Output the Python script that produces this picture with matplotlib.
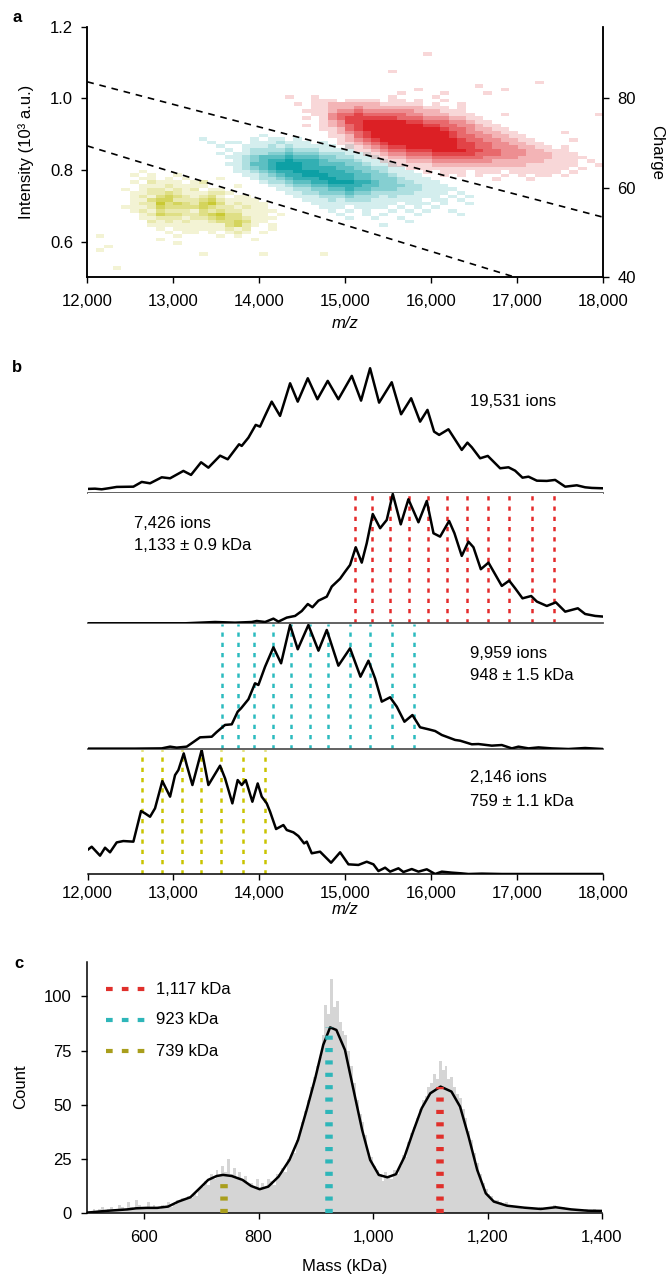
import numpy as np
import matplotlib
matplotlib.use('Agg')
import matplotlib.pyplot as plt
from matplotlib.lines import Line2D
from matplotlib.ticker import FuncFormatter

plt.rcParams['font.family'] = ['Liberation Sans', 'DejaVu Sans']
plt.rcParams['font.size'] = 12

# ---------------- data: panel a (2D histogram levels, 0..6) ----------------
yellow_mz0, yellow_top = 12000, 0.81
yellow_rows = [
    "00000000000000000000000000000",
    "00000010000000000000000000000",
    "00000101001000000000000000000",
    "00000011010100010000000000000",
    "00000102111012000000000000000",
    "00000011121111000100000000000",
    "00001012212120110000000000000",
    "00000112232111221000000000000",
    "00000121343212310110000000000",
    "00000113442223421111000000000",
    "00000122534324531211100000000",
    "00001112433334322121100000000",
    "00000121322213232211110000000",
    "00000012433223453311101000000",
    "00000011222122343321110000000",
    "00000002121211233431100000000",
    "00000001111111113421010000000",
    "00000000101111112120010000000",
    "00000000010110101210100000000",
    "01000000001000010100000000000",
    "00000000100000000001000000000",
    "00000000001000000000000000000",
    "00100000000000000000000000000",
    "01000000000000000000000000000",
    "00000000000001000000100000010",
    "00000000000000000000000000000",
    "00000000000000000000000000000",
    "00000000000000000000000000000",
    "00010000000000000000000000000",
]
cyan_mz0, cyan_top = 13000, 0.91
cyan_rows = [
    "0000000000000000000000000000000000000000",
    "0000000000100000000000000000000000000000",
    "0001000001011010000000000000000000000000",
    "0000101101112111010000000000000000000000",
    "0000010011121211111010000000000000000000",
    "0000001012222322211110000000000000000000",
    "0000010112233433322211100000000000000000",
    "0000001123444544433221110000000000000000",
    "0000000123455655543332111000000000000000",
    "0000001124456665544433211100000000000000",
    "0000000123456665555443322110000000000000",
    "0000000112345566655544332111000000000000",
    "0000000011234556665554433211100000000000",
    "0000000001223455566554433321110000000000",
    "0000000000122344556665543322111000000000",
    "0000000000011233445555443332211100000000",
    "0000000000001122334454433322211110000000",
    "0000000000000112233343322222111101000000",
    "0000000000000011122232221211111010100000",
    "0000000000000001112122211111101101000000",
    "0000000000000000111111111101110100100000",
    "0000000000000000011101111010101000000000",
    "0000000000000000001010100101010010000000",
    "0000000000000000000100101000100001000000",
    "0000000000000000000010010010000000000000",
    "0000000000000000000000000001000000000000",
    "0000000000000000000000001000000000000000",
]
red_mz0, red_top = 14300, 1.13
red_rows = [
    "0000000000000000100000000000000000000",
    "0000000000000000000000000000000000000",
    "0000000000000000000000000000000000000",
    "0000000000000000000000000000000000000",
    "0000000000000000000000000000000000000",
    "0000000000001000000000000000000000000",
    "0000000000000000000000000000000000000",
    "0000000000000000000000000000000000000",
    "0000000000000000000000000000010000000",
    "0000000000000000000000100000000000000",
    "0000000000000001000000000100000000000",
    "0000000000000100001000010000000000000",
    "1001000000001000010000000000000000000",
    "0001110111101101001000000000000000000",
    "0101122222211111010010000000000000000",
    "0001122232222222111010000000000000000",
    "0011123343333332221110000000000000000",
    "0001134454444433222111000100000000001",
    "0010134555555444333221100000000000000",
    "0000123556666655444332110000000000000",
    "0010123456666666554433211000000000000",
    "0000112456666666665443221100000000000",
    "0000012345666666666543322110000010000",
    "0000011245666666666544332211000000000",
    "0000001234566666666654433221100001000",
    "0000001123456666666655443322110000000",
    "0000000112345566666655443332211010000",
    "0000000011234455566665544333221110000",
    "0000000001123344455555444333222111000",
    "0000000000112233344444433332222111100",
    "0000000000011122233333332222221111010",
    "0000000000001111122222222222111111001",
    "0000000000000011111111111111111110100",
    "0000000000000000101110111011111101000",
    "0000000000000000001010100101011010000",
    "0000000000000000000000001000100000000",
]
upper_line_mz = [12000, 18000]
upper_line_int = [1.046, 0.668]
lower_line_mz = [12000, 18000]
lower_line_int = [0.867, 0.425]

mz_ticks = [12000, 13000, 14000, 15000, 16000, 17000, 18000]
int_ticks = [0.6, 0.8, 1.0, 1.2]
charge_ticks = [40, 60, 80]

# ---------------- data: panel b (normalised intensity traces) ----------------
all_trace = [(12000, 0.035), (12087, 0.037), (12165, 0.032), (12243, 0.040), (12340, 0.051),
             (12534, 0.053), (12631, 0.091), (12728, 0.080), (12864, 0.128), (12961, 0.120),
             (13116, 0.179), (13205, 0.147), (13322, 0.248), (13407, 0.205), (13543, 0.301),
             (13632, 0.272), (13764, 0.392), (13795, 0.379), (13873, 0.445), (13958, 0.547),
             (14008, 0.533), (14067, 0.621), (14144, 0.733), (14241, 0.619), (14358, 0.880),
             (14447, 0.733), (14564, 0.920), (14676, 0.752), (14796, 0.899), (14920, 0.752),
             (15076, 0.939), (15184, 0.741), (15289, 1.000), (15394, 0.725), (15541, 0.888),
             (15650, 0.632), (15767, 0.760), (15871, 0.573), (15957, 0.667), (16034, 0.493),
             (16093, 0.467), (16201, 0.512), (16356, 0.347), (16422, 0.405), (16473, 0.368),
             (16570, 0.280), (16659, 0.299), (16803, 0.200), (16900, 0.208), (16977, 0.181),
             (17063, 0.125), (17133, 0.133), (17230, 0.101), (17346, 0.099), (17443, 0.107),
             (17560, 0.053), (17695, 0.064), (17792, 0.048), (17870, 0.043), (18000, 0.040)]
red_trace = [(12000, 0.0), (12359, 0.0), (12747, 0.0), (13135, 0.0), (13485, 0.010),
             (13717, 0.005), (13912, 0.010), (13970, 0.018), (14067, 0.010), (14164, 0.036),
             (14222, 0.013), (14319, 0.044), (14416, 0.057), (14494, 0.095), (14564, 0.149),
             (14618, 0.124), (14688, 0.175), (14785, 0.206), (14843, 0.284), (14940, 0.345),
             (14998, 0.399), (15056, 0.451), (15122, 0.588), (15192, 0.469), (15250, 0.619),
             (15320, 0.845), (15406, 0.735), (15483, 0.799), (15553, 1.000), (15646, 0.765),
             (15735, 0.959), (15852, 0.781), (15949, 0.946), (16027, 0.696), (16104, 0.670),
             (16209, 0.791), (16271, 0.696), (16356, 0.521), (16434, 0.631), (16492, 0.588),
             (16578, 0.418), (16667, 0.469), (16822, 0.289), (16908, 0.330), (16977, 0.271),
             (17063, 0.193), (17164, 0.211), (17230, 0.168), (17346, 0.134), (17451, 0.162),
             (17560, 0.090), (17707, 0.116), (17792, 0.072), (17909, 0.057), (18000, 0.052)]
cyan_trace = [(12000, 0.003), (12553, 0.003), (12864, 0.005), (12961, 0.019), (13038, 0.011),
              (13155, 0.019), (13232, 0.056), (13310, 0.094), (13446, 0.099), (13504, 0.137),
              (13601, 0.194), (13679, 0.199), (13748, 0.301), (13787, 0.328), (13873, 0.401),
              (13950, 0.530), (13989, 0.516), (14067, 0.664), (14164, 0.820), (14253, 0.691),
              (14358, 1.000), (14447, 0.804), (14571, 1.000), (14688, 0.793), (14785, 0.960),
              (14920, 0.672), (15056, 0.812), (15177, 0.583), (15270, 0.712), (15347, 0.570),
              (15425, 0.382), (15522, 0.417), (15600, 0.341), (15689, 0.220), (15782, 0.274),
              (15871, 0.175), (15968, 0.159), (16046, 0.145), (16124, 0.113), (16279, 0.073),
              (16337, 0.067), (16473, 0.038), (16550, 0.040), (16706, 0.027), (16822, 0.032),
              (16939, 0.005), (17016, 0.019), (17133, 0.005), (17249, 0.013), (17404, 0.005),
              (17598, 0.0), (17792, 0.008), (18000, 0.0)]
yellow_trace = [(12000, 0.194), (12049, 0.220), (12146, 0.148), (12204, 0.212), (12262, 0.175),
                (12340, 0.255), (12417, 0.266), (12534, 0.261), (12623, 0.508), (12670, 0.489),
                (12728, 0.462), (12786, 0.530), (12871, 0.750), (12961, 0.624), (13019, 0.798),
                (13058, 0.839), (13120, 0.973), (13155, 0.879), (13221, 0.718), (13329, 1.000),
                (13407, 0.718), (13543, 0.874), (13601, 0.772), (13686, 0.570), (13748, 0.758),
                (13795, 0.718), (13842, 0.758), (13919, 0.583), (13981, 0.731), (14028, 0.624),
                (14086, 0.570), (14125, 0.503), (14195, 0.363), (14280, 0.395), (14319, 0.355),
                (14397, 0.336), (14455, 0.306), (14521, 0.247), (14552, 0.261), (14610, 0.167),
                (14707, 0.180), (14835, 0.091), (14940, 0.175), (15037, 0.078), (15153, 0.073),
                (15250, 0.099), (15328, 0.078), (15386, 0.024), (15464, 0.051), (15522, 0.019),
                (15619, 0.046), (15677, 0.016), (15774, 0.040), (15852, 0.019), (15949, 0.038),
                (16046, 0.0), (16124, 0.019), (16240, 0.011), (16356, 0.005), (16434, 0.0),
                (16589, 0.003), (16822, 0.0), (18000, 0.0)]
red_peaks = [15110, 15310, 15520, 15740, 15960, 16190, 16420, 16660, 16910, 17170, 17430]
cyan_peaks = [13560, 13750, 13940, 14160, 14365, 14585, 14805, 15050, 15290, 15540, 15795]
yellow_peaks = [12640, 12865, 13100, 13320, 13550, 13815, 14070]
b_labels = [["19,531 ions"], ["7,426 ions", "1,133 \u00b1 0.9 kDa"],
            ["9,959 ions", "948 \u00b1 1.5 kDa"], ["2,146 ions", "759 \u00b1 1.1 kDa"]]

# ---------------- data: panel c ----------------
hist_start, hist_bin = 500, 5
hist_counts = [1, 1, 2, 1, 2, 3, 1, 2, 3, 2,
               2, 4, 3, 2, 5, 3, 2, 6, 4, 3,
               3, 5, 2, 4, 3, 2, 4, 3, 5, 3,
               4, 6, 5, 7, 6, 8, 7, 9, 8, 11,
               12, 15, 13, 18, 16, 20, 17, 22, 19, 25,
               18, 21, 16, 19, 15, 17, 13, 14, 12, 16,
               11, 14, 12, 16, 15, 13, 18, 17, 21, 19,
               25, 27, 28, 34, 36, 42, 47, 52, 58, 63,
               68, 72, 82, 96, 92, 108, 95, 98, 88, 84,
               82, 75, 68, 60, 52, 46, 42, 36, 28, 26,
               22, 20, 18, 15, 19, 17, 16, 20, 18, 22,
               27, 26, 33, 37, 40, 44, 48, 52, 54, 58,
               60, 64, 62, 70, 66, 68, 62, 63, 58, 55,
               53, 48, 44, 38, 34, 28, 23, 18, 14, 11,
               9, 8, 6, 6, 5, 4, 5, 3, 4, 3,
               3, 3, 2, 3, 2, 3, 2, 2, 3, 2,
               2, 3, 3, 4, 3, 2, 3, 2, 2, 2,
               2, 1, 2, 1, 2, 1, 1, 2, 1, 1]
fit_curve = [(500, 0.3), (533, 1.1), (571, 1.8), (586, 2.3), (604, 2.5), (623, 2.5), (642, 3.1),
             (660, 5.4), (681, 7.4), (697, 11.5), (712, 15.4), (727, 17.2), (738, 17.7),
             (753, 17.2), (772, 15.4), (787, 12.6), (802, 11.1), (817, 12.3), (835, 16.9),
             (854, 24.6), (869, 33.8), (884, 47.6), (899, 62.2), (913, 77.6), (925, 85.7),
             (936, 84.5), (951, 75.3), (966, 56.8), (981, 38.4), (995, 24.6), (1010, 17.7),
             (1025, 16.6), (1040, 18.0), (1055, 26.1), (1070, 37.6), (1085, 48.4), (1100, 55.3),
             (1118, 58.4), (1137, 56.1), (1152, 49.2), (1167, 35.3), (1182, 20.0), (1197, 9.2),
             (1211, 5.4), (1234, 3.5), (1264, 2.6), (1293, 2.0), (1319, 2.8), (1346, 1.8),
             (1375, 1.2), (1400, 1.1)]
c_masses = [1117, 923, 739]
c_heights = [58, 86, 14]
c_labels = ["1,117 kDa", "923 kDa", "739 kDa"]
mass_ticks = [600, 800, 1000, 1200, 1400]
count_ticks = [0, 25, 50, 75, 100]

# ---------------- styles ----------------
RED_H, CYAN_H, YEL_H = (0.86, 0.08, 0.10), (0.0, 0.61, 0.63), (0.74, 0.74, 0.0)
RED_B, CYAN_B, YEL_B = '#e42a2b', '#2bbbbf', '#c9c400'
RED_C, CYAN_C, OLV_C = '#e0302b', '#2eb6b9', '#a99e1c'
ALPHAS = np.array([0, 0.17, 0.32, 0.48, 0.64, 0.8, 0.95])

W, H = 668, 1276
fig = plt.figure(figsize=(W / 100, H / 100), dpi=100)


def box(l, t, r, b):
    return [l / W, 1 - b / H, (r - l) / W, (b - t) / H]


def fx(x):
    return x / W


def fy(y):
    return 1 - y / H


comma = FuncFormatter(lambda v, p: f"{v:,.0f}")


def style_ticks(ax, xpad=8, ypad=6):
    ax.tick_params(direction='out', length=4.3, width=1.0, labelsize=12)
    ax.tick_params(axis='x', pad=xpad)
    ax.tick_params(axis='y', pad=ypad)


# ---------------- panel a ----------------
axa = fig.add_axes(box(87.3, 26.7, 603, 277.3))
for rows, mz0, top, col in [(yellow_rows, yellow_mz0, yellow_top, YEL_H),
                            (cyan_rows, cyan_mz0, cyan_top, CYAN_H),
                            (red_rows, red_mz0, red_top, RED_H)]:
    ncol = max(len(r) for r in rows)
    lv = np.array([[int(ch) for ch in r.ljust(ncol, '0')] for r in rows])
    rgba = np.zeros(lv.shape + (4,))
    rgba[..., :3] = col
    rgba[..., 3] = ALPHAS[lv]
    axa.imshow(rgba, extent=(mz0, mz0 + ncol * 100, top - lv.shape[0] * 0.01, top),
               aspect='auto', interpolation='nearest', zorder=1)
axa.plot(upper_line_mz, upper_line_int, color='black', lw=1.2, ls=(0, (4, 3.5)), zorder=3)
axa.plot(lower_line_mz, lower_line_int, color='black', lw=1.2, ls=(0, (4, 3.5)), zorder=3)
axa.set_xlim(12000, 18000)
axa.set_ylim(0.5, 1.2)
axa.set_xticks(mz_ticks)
axa.xaxis.set_major_formatter(comma)
axa.set_yticks(int_ticks)
axa.set_yticklabels([f"{v:.1f}" for v in int_ticks])
axa.spines['top'].set_visible(False)
for s in axa.spines.values():
    s.set_linewidth(1.1)
style_ticks(axa)
axr = axa.twinx()
axr.set_ylim(40, 96)
axr.set_yticks(charge_ticks)
axr.spines['top'].set_visible(False)
for s in axr.spines.values():
    s.set_linewidth(1.1)
style_ticks(axr)
fig.text(fx(26), fy(152), "Intensity (10\u00b3 a.u.)", rotation=90, ha='center', va='center', fontsize=12)
fig.text(fx(657), fy(152), "Charge", rotation=270, ha='center', va='center', fontsize=12)
fig.text(fx(345), fy(324), "m/z", style='italic', ha='center', va='center', fontsize=12)

# ---------------- panel b ----------------
sub_boxes = [(362, 493.3), (493.3, 623.3), (624, 749), (749.7, 874)]
sub_ylims = [1.05, 1.005, 1.008, 1.003]
traces = [all_trace, red_trace, cyan_trace, yellow_trace]
peaks = [[], red_peaks, cyan_peaks, yellow_peaks]
pcols = [None, RED_B, CYAN_B, YEL_B]
text_pos = [(470, 401), (134, 523), (470, 653), (470, 778)]
for i in range(4):
    t, b = sub_boxes[i]
    ax = fig.add_axes(box(87.5, t, 603, b))
    ax.set_xlim(12000, 18000)
    ax.set_ylim(0, sub_ylims[i])
    for x in peaks[i]:
        ax.axvline(x, color=pcols[i], lw=1.8, ls=(0, (1.7, 2.4)), zorder=1)
    mz = [p[0] for p in traces[i]]
    h = [p[1] for p in traces[i]]
    ax.plot(mz, h, color='black', lw=1.8, zorder=3, solid_joinstyle='round')
    for s in ['top', 'left', 'right']:
        ax.spines[s].set_visible(False)
    ax.set_yticks([])
    if i < 3:
        ax.spines['bottom'].set_color('#555555')
        ax.spines['bottom'].set_linewidth(1.3)
        ax.set_xticks([])
    else:
        ax.spines['bottom'].set_linewidth(1.1)
        ax.set_xticks(mz_ticks)
        ax.xaxis.set_major_formatter(comma)
        style_ticks(ax, xpad=4)
    tx, ty = text_pos[i]
    for k, line in enumerate(b_labels[i]):
        fig.text(fx(tx), fy(ty + 23 * k), line, ha='left', va='center', fontsize=12)
fig.text(fx(345), fy(909), "m/z", style='italic', ha='center', va='center', fontsize=12)

# ---------------- panel c ----------------
axc = fig.add_axes(box(86.8, 962.3, 602, 1213.3))
edges = hist_start + hist_bin * np.arange(len(hist_counts))
axc.bar(edges, hist_counts, width=hist_bin, align='edge', color='#d5d5d5', lw=0, zorder=1)
axc.plot([p[0] for p in fit_curve], [p[1] for p in fit_curve], color='black', lw=1.8, zorder=3)
for m, hgt, col in zip(c_masses, c_heights, [RED_C, CYAN_C, OLV_C]):
    axc.plot([m, m], [0, hgt], color=col, lw=5.4, ls=(0, (0.55, 1.1)), zorder=4,
             solid_capstyle='butt', dash_capstyle='butt')
axc.set_xlim(500, 1400)
axc.set_ylim(0, 115.7)
axc.set_xticks(mass_ticks)
axc.xaxis.set_major_formatter(comma)
axc.set_yticks(count_ticks)
for s in ['top', 'right']:
    axc.spines[s].set_visible(False)
for s in axc.spines.values():
    s.set_linewidth(1.1)
style_ticks(axc, xpad=8, ypad=6.5)
for k, (lbl, col) in enumerate(zip(c_labels, [RED_C, CYAN_C, OLV_C])):
    yy = fy(989 + 31 * k)
    fig.add_artist(Line2D([fx(106), fx(148)], [yy, yy], color=col, lw=3.0,
                          ls=(0, (1.6, 2.2)), dash_capstyle='butt'))
    fig.text(fx(156), yy, lbl, ha='left', va='center', fontsize=12)
fig.text(fx(21), fy(1087), "Count", rotation=90, ha='center', va='center', fontsize=12)
fig.text(fx(345), fy(1266), "Mass (kDa)", ha='center', va='center', fontsize=12)

# panel letters
for lbl, x, y in [("a", 17, 17), ("b", 17, 367), ("c", 19, 964)]:
    fig.text(fx(x), fy(y), lbl, fontweight='bold', ha='center', va='center', fontsize=12)

fig.savefig('out.png', dpi=100)
